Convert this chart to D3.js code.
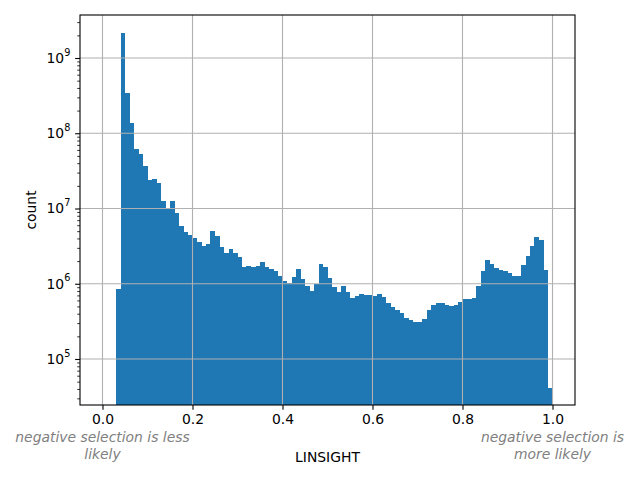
<!DOCTYPE html>
<html>
<head>
<meta charset="utf-8">
<script src="https://cdn.jsdelivr.net/npm/d3@7"></script>
<style>
  html, body { margin: 0; padding: 0; background: #fff; }
  svg { display: block; }
  text { font-family: "DejaVu Sans", sans-serif; }
</style>
</head>
<body>
<svg id="chart" width="640" height="480"></svg>
<script>
// ---- data ----
const binStart = 0.03;
const binWidth = 0.01;
const counts = [
  8.5e5, 2.15e9, 3.43e8, 1.37e8, 6.18e7, 5.3e7, 3.67e7, 2.39e7, 2.47e7, 2.18e7,
  1.26e7, 1.02e7, 1.26e7, 8.71e6, 5.85e6, 4.87e6, 4.45e6, 4.06e6, 3.59e6, 3.18e6,
  3.38e6, 5.03e6, 4.31e6, 3.08e6, 2.56e6, 2.90e6, 2.56e6, 2.27e6, 1.67e6, 1.72e6,
  1.67e6, 1.72e6, 1.95e6, 1.67e6, 1.57e6, 1.48e6, 1.27e6, 1.09e6, 1.02e6, 1.23e6,
  1.57e6, 1.16e6, 9.33e5, 8.01e5, 9.93e5, 1.83e6, 1.67e6, 1.19e6, 9.06e5, 7.77e5,
  9.33e5, 7.77e5, 6.47e5, 6.88e5, 7.31e5, 7.09e5, 7.09e5, 6.88e5, 7.31e5, 6.67e5,
  5.55e5, 4.91e5, 4.48e5, 4.08e5, 3.51e5, 3.30e5, 3.10e5, 3.10e5, 3.40e5, 4.48e5,
  5.22e5, 5.55e5, 5.55e5, 5.22e5, 5.06e5, 5.22e5, 5.72e5, 6.27e5, 6.27e5, 6.47e5,
  9.33e5, 1.48e6, 2.07e6, 1.83e6, 1.62e6, 1.52e6, 1.48e6, 1.39e6, 1.27e6, 1.27e6,
  1.77e6, 2.34e6, 3.18e6, 4.18e6, 3.81e6, 1.52e6, 4.12e4
];
const xTicks = [0.0, 0.2, 0.4, 0.6, 0.8, 1.0];
const xTickLabels = ["0.0", "0.2", "0.4", "0.6", "0.8", "1.0"];
const yTickExps = [5, 6, 7, 8, 9];
const xLabel = "LINSIGHT";
const yLabel = "count";
const leftNote = ["negative selection is less", "likely"];
const rightNote = ["negative selection is", "more likely"];

// ---- layout ----
const M = { left: 80, right: 575, top: 15, bottom: 405 };
const xDomain = [-0.05, 1.05];
const yDomain = [Math.pow(10, 4.3887), Math.pow(10, 9.5714)];
const barColor = "#1f77b4";
const gridColor = "#b0b0b0";
const fs = 13.9;

const svg = d3.select("#chart");
const x = d3.scaleLinear().domain(xDomain).range([M.left, M.right]);
const y = d3.scaleLog().domain(yDomain).range([M.bottom, M.top]);

const bins = counts.map((c, i) => ({ x0: binStart + i * binWidth, x1: binStart + (i + 1) * binWidth, c }));

svg.append("defs").append("clipPath").attr("id", "clip")
  .append("rect").attr("x", M.left).attr("y", M.top)
  .attr("width", M.right - M.left).attr("height", M.bottom - M.top);

// bars
svg.append("g").attr("clip-path", "url(#clip)")
  .attr("shape-rendering", "crispEdges")
  .selectAll("rect").data(bins).join("rect")
  .attr("x", d => Math.round(x(d.x0)))
  .attr("width", d => Math.round(x(d.x1)) - Math.round(x(d.x0)))
  .attr("y", d => Math.round(y(d.c)))
  .attr("height", d => M.bottom - Math.round(y(d.c)))
  .attr("fill", barColor);

// grid (drawn above bars, as matplotlib does)
const grid = svg.append("g");
grid.selectAll("line.gx").data(xTicks).join("line")
  .attr("x1", d => x(d)).attr("x2", d => x(d))
  .attr("y1", M.top).attr("y2", M.bottom)
  .attr("stroke", gridColor).attr("stroke-width", 1.1);
grid.selectAll("line.gy").data(yTickExps).join("line")
  .attr("x1", M.left).attr("x2", M.right)
  .attr("y1", d => y(Math.pow(10, d))).attr("y2", d => y(Math.pow(10, d)))
  .attr("stroke", gridColor).attr("stroke-width", 1.1);

// x axis
const xAxis = d3.axisBottom(x).tickValues(xTicks)
  .tickFormat((d, i) => xTickLabels[i]).tickSize(4.86).tickPadding(4.4);
const gx = svg.append("g").attr("transform", `translate(0,${M.bottom})`).call(xAxis);
gx.select(".domain").remove();
gx.selectAll("line").attr("stroke", "#000").attr("stroke-width", 1.1);
gx.selectAll("text").attr("font-size", fs).attr("fill", "#000")
  .attr("font-family", "DejaVu Sans, sans-serif");

// y axis minor ticks
const minor = [];
for (let e = 4; e <= 9; e++) {
  for (let m = 2; m <= 9; m++) {
    const v = m * Math.pow(10, e);
    if (v >= yDomain[0] && v <= yDomain[1]) minor.push(v);
  }
}
const yMinorAxis = d3.axisLeft(y).tickValues(minor).tickFormat("").tickSize(2.78);
const gym = svg.append("g").attr("transform", `translate(${M.left},0)`).call(yMinorAxis);
gym.select(".domain").remove();
gym.selectAll("line").attr("stroke", "#000").attr("stroke-width", 0.8);

const yAxis = d3.axisLeft(y).tickValues(yTickExps.map(e => Math.pow(10, e)))
  .tickFormat("").tickSize(4.86);
const gy = svg.append("g").attr("transform", `translate(${M.left},0)`).call(yAxis);
gy.select(".domain").remove();
gy.selectAll("line").attr("stroke", "#000").attr("stroke-width", 1.1);
gy.selectAll("g.tick").each(function(d) {
  const e = Math.round(Math.log10(d));
  const t = d3.select(this).append("text")
    .attr("x", -9.7).attr("y", 0).attr("dy", "0.32em")
    .attr("text-anchor", "end").attr("fill", "#000").attr("font-size", fs);
  t.append("tspan").text("10");
  t.append("tspan").attr("font-size", fs * 0.7).attr("dy", "-0.75em").text(String(e));
});

// spines
svg.append("rect").attr("x", M.left).attr("y", M.top)
  .attr("width", M.right - M.left).attr("height", M.bottom - M.top)
  .attr("fill", "none").attr("stroke", "#000").attr("stroke-width", 1.1);

// labels
svg.append("text").attr("x", (M.left + M.right) / 2).attr("y", 462)
  .attr("text-anchor", "middle").attr("font-size", fs).attr("fill", "#000").text(xLabel);
svg.append("text").attr("transform", `translate(36,${(M.top + M.bottom) / 2}) rotate(-90)`)
  .attr("text-anchor", "middle").attr("font-size", fs).attr("fill", "#000").text(yLabel);

function note(lines, cx) {
  const t = svg.append("text").attr("text-anchor", "middle").attr("font-size", fs)
    .attr("font-style", "italic").attr("fill", "#808080");
  lines.forEach((l, i) => {
    t.append("tspan").attr("x", cx).attr("y", 442 + i * 16.7).text(l);
  });
}
note(leftNote, x(0));
note(rightNote, x(1));
</script>
</body>
</html>
